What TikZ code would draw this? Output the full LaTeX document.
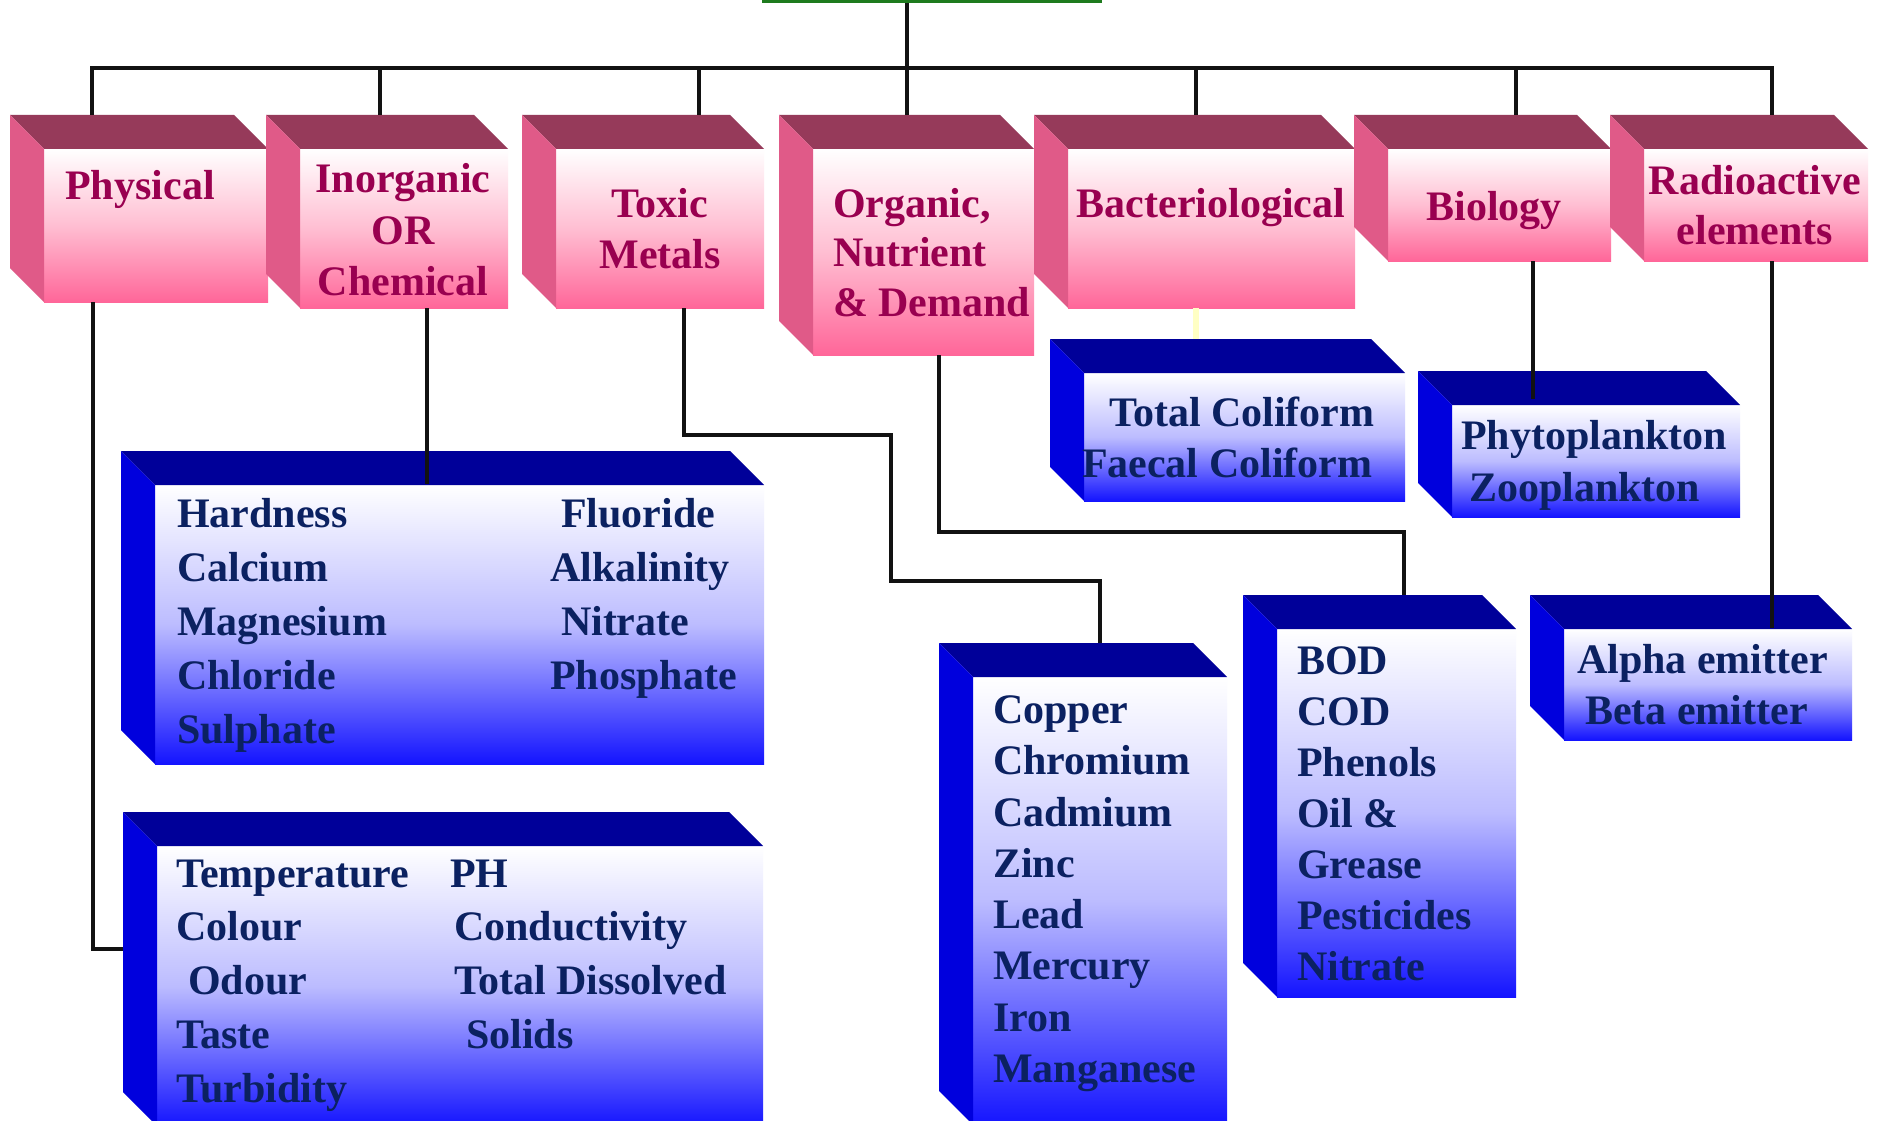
\documentclass[tikz,border=0pt]{standalone}
\usepackage{fontspec}
\setmainfont{Liberation Serif}
\definecolor{pinktop}{HTML}{963A5A}
\definecolor{pinkleft}{HTML}{E05A88}
\definecolor{pinkbot}{HTML}{FF6699}
\definecolor{pinkmid}{HTML}{FFBED2}
\definecolor{pinktext}{HTML}{990050}
\definecolor{bluetop}{HTML}{000099}
\definecolor{blueleft}{HTML}{0000DD}
\definecolor{bluemid}{HTML}{BCBCFF}
\definecolor{bluebot}{HTML}{1414FF}
\definecolor{bluetext}{HTML}{0B2161}
\definecolor{rootgreen}{HTML}{1E7B1E}
\definecolor{faintyellow}{HTML}{FFFFC4}
\tikzset{
  pinkfront/.style={draw=none, inner sep=0pt, outer sep=0pt, top color=white, bottom color=pinkbot, middle color=pinkmid},
  pinktop/.style={fill=pinktop},
  pinkleft/.style={fill=pinkleft},
  bluefront/.style={draw=none, inner sep=0pt, outer sep=0pt, top color=white, bottom color=bluebot, middle color=bluemid},
  bluetop/.style={fill=bluetop},
  blueleft/.style={fill=blueleft},
  conn/.style={line width=4.5pt, black!93, line join=miter},
  ptxt/.style={inner sep=0pt, outer sep=0pt, text=pinktext, font={\fontsize{42}{#1}\selectfont\bfseries}},
  btxt/.style={inner sep=0pt, outer sep=0pt, text=bluetext, font={\fontsize{42}{#1}\selectfont\bfseries}},
}
\newcommand\cubebox[6]{%
  \node[#2front, anchor=north west, minimum width={#5-#3-34}, minimum height={#6-#4-34}] (#1) at ({#3+34},{#4+34}) {};
  \fill[#2top] (#1.north west) -- ++(-34,-34) -- ++({#5-#3-34},0) -- (#1.north east) -- cycle;
  \fill[#2left] (#1.north west) -- ++(-34,-34) -- ++(0,{#6-#4-34}) -- (#1.south west) -- cycle;
}
\newcommand\colL[1]{\begin{tabular}[t]{@{}l@{}}#1\end{tabular}}
\newcommand\colC[1]{\begin{tabular}[t]{@{}c@{}}#1\end{tabular}}
\begin{document}
\begin{tikzpicture}[x=1pt,y=-1pt]
\useasboundingbox (0,0) rectangle (1883,1121);
\clip (0,0) rectangle (1883,1121);
\fill[white] (0,0) rectangle (1883,1121);

% root (only its lower edge is visible)
\node[draw=rootgreen, line width=3pt, fill=white, minimum width=337, minimum height=60, anchor=south, inner sep=0pt, outer sep=0pt] (root) at (931.5,1.5) {};

% category boxes
\cubebox{phys}{pink}{10}{115}{268}{302}
\cubebox{inorg}{pink}{266}{115}{508}{308}
\cubebox{toxic}{pink}{522}{115}{764}{308}
\cubebox{organic}{pink}{779}{115}{1034}{355}
\cubebox{bact}{pink}{1034}{115}{1355}{308}
\cubebox{bio}{pink}{1354}{115}{1611}{261}
\cubebox{radio}{pink}{1610}{115}{1868}{261}

% detail boxes
\cubebox{chemlist}{blue}{121}{451}{764}{764}
\cubebox{physlist}{blue}{123}{812}{763}{1126}
\cubebox{metallist}{blue}{939}{643}{1227}{1125}
\cubebox{bodlist}{blue}{1243}{595}{1516}{997}
\cubebox{colilist}{blue}{1050}{339}{1405}{501}
\cubebox{planklist}{blue}{1418}{371}{1740}{517}
\cubebox{radiolist}{blue}{1530}{595}{1852}{740}

% connector points
\coordinate (rootJ) at (907,3);
\coordinate (busO) at (907,68);
\coordinate (busL) at (92,68);
\coordinate (busR) at (1772,68);
\coordinate (physT) at (92,115);
\coordinate (inorgT) at (380,115);
\coordinate (toxicT) at (699,115);
\coordinate (orgT) at (907,115);
\coordinate (bactT) at (1196,115);
\coordinate (bioT) at (1516,115);
\coordinate (radioT) at (1772,115);
\coordinate (physB) at (93,302);
\coordinate (physE) at (123,949);
\coordinate (inorgB) at (427,308);
\coordinate (inorgE) at (427,484);
\coordinate (toxicB) at (684,308);
\coordinate (toxicE) at (1100,643);
\coordinate (orgB) at (939,355);
\coordinate (orgE) at (1404,595);
\coordinate (bactB) at (1196,308);
\coordinate (bactE) at (1196,339);
\coordinate (bioB) at (1533,261);
\coordinate (bioE) at (1533,399);
\coordinate (radioB) at (1772,261);
\coordinate (radioE) at (1772,628);

% connectors
\draw[conn] (rootJ) -- (busO);
\draw[conn] (physT) -- (busL) -- (busR) -- (radioT);
\foreach \t in {inorgT,toxicT,orgT,bactT,bioT}{
  \draw[conn] (\t |- busO) -- (\t);
}
\draw[conn] (physB) |- (physE);
\draw[conn] (inorgB) -- (inorgE);
\draw[conn] (toxicB) -- (684,435) -- (891,435) -- (891,581) -| (toxicE);
\draw[conn] (orgB) |- (1404,532) -- (orgE);
\draw[line width=6pt, faintyellow] (bactB) -- (bactE);
\draw[conn] (bioB) -- (bioE);
\draw[conn] (radioB) -- (radioE);

% category labels
\node[ptxt=51, anchor=base] (physlabel) at (140,200) {\colC{Physical}};
\node[ptxt=51.5, anchor=base] (inorglabel) at (403,193) {\colC{Inorganic\\OR\\Chemical}};
\node[ptxt=51, anchor=base] (toxiclabel) at (660,218) {\colC{Toxic\\Metals}};
\node[ptxt=50, anchor=base west] (orglabel) at (833,217) {\colL{Organic,\\Nutrient\\\& Demand}};
\node[ptxt=51, anchor=base] (bactlabel) at (1211,218) {\colC{Bacteriological}};
\node[ptxt=51, anchor=base] (biolabel) at (1494,220) {\colC{Biology}};
\node[ptxt=51, anchor=base] (radiolabel) at (1755,194) {\colC{Radioactive\\elements}};

% detail labels
\node[btxt=54, anchor=base west] (chemA) at (177,527) {\colL{Hardness\\Calcium\\Magnesium\\Chloride\\Sulphate}};
\node[btxt=54, anchor=base west] (chemB) at (550,527) {\colL{\hspace{11pt}Fluoride\\Alkalinity\\\hspace{11pt}Nitrate\\Phosphate}};
\node[btxt=53.75, anchor=base west] (physA) at (176,887) {\colL{Temperature\\Colour\\\hspace{12pt}Odour\\Taste\\Turbidity}};
\node[btxt=53.75, anchor=base west] (physB2) at (450,887) {\colL{PH\\\hspace{4pt}Conductivity\\\hspace{4pt}Total Dissolved\\\hspace{16pt}Solids}};
\node[btxt=51.3, anchor=base west] (metalsA) at (993,723.4) {\colL{Copper\\Chromium\\Cadmium\\Zinc\\Lead\\Mercury\\Iron\\Manganese}};
\node[btxt=51, anchor=base west] (bodA) at (1297,674) {\colL{BOD\\COD\\Phenols\\Oil \&\\Grease\\Pesticides\\Nitrate}};
\node[btxt=51, anchor=base west] (coliA) at (1109,426) {\colL{Total Coliform\\\hspace{-27pt}Faecal Coliform}};
\node[btxt=52, anchor=base west] (plankA) at (1461,449) {\colL{Phytoplankton\\\hspace{8pt}Zooplankton}};
\node[btxt=51, anchor=base west] (radioA) at (1577,673) {\colL{Alpha emitter\\\hspace{8pt}Beta emitter}};
\end{tikzpicture}
\end{document}
